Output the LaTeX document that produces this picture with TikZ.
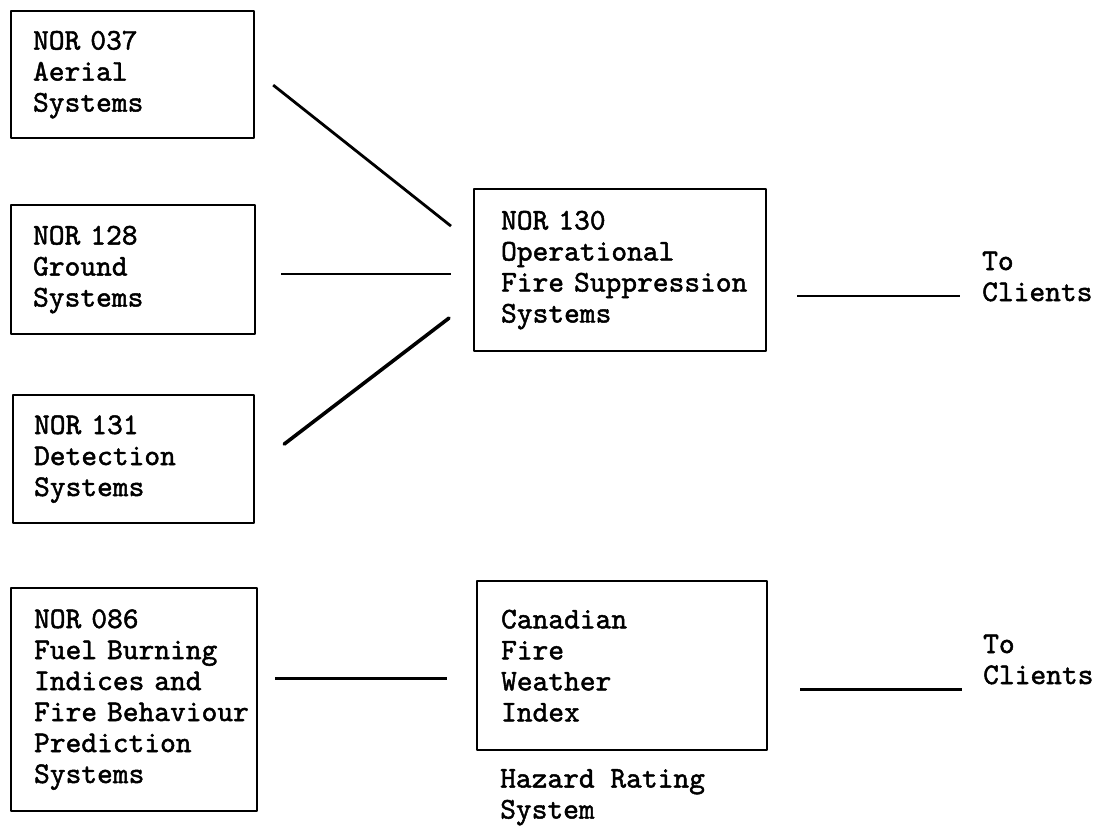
\documentclass[tikz,border=0pt]{standalone}
\usepackage{fontspec}
\newfontfamily\typewr[FakeBold=1.6,HyphenChar=None]{lmmono10-regular.otf}
\newcommand\twfont{\typewr\fontsize{30}{31}\selectfont\spaceskip=15.75pt\relax}
\usetikzlibrary{positioning}
\hfuzz=40pt

\begin{document}
\begin{tikzpicture}[x=1pt,y=-1pt,line join=bevel,
  unit/.style={draw,line width=2.2pt,anchor=north west,align=left,
    inner xsep=22pt,inner ysep=0pt,font=\twfont},
  label/.style={anchor=north west,align=left,inner sep=0pt,font=\twfont},
  link/.style={line width=2.8pt}]
\useasboundingbox (0,0) rectangle (1101,829);
%%
  % Node: aer
  \node[unit,text width=199pt,minimum height=127pt] (aer) at (10,10)
    {NOR~037\\Aerial\\Systems};
  % Node: gnd
  \node[unit,text width=200pt,minimum height=129pt] (gnd) at (10,204)
    {NOR~128\\Ground\\Systems};
  % Node: det
  \node[unit,inner xsep=21pt,text width=199pt,minimum height=128pt] (det) at (12,394)
    {NOR~131\\Detection\\Systems};
  % Node: fue
  \node[unit,inner xsep=23pt,text width=200pt,minimum height=223pt] (fue) at (10,587)
    {NOR~086\\Fuel~Burning\\Indices~and\\Fire~Behaviour\\Prediction\\Systems};
  % Node: ops
  \node[unit,inner xsep=27pt,text width=238pt,minimum height=162pt] (ops) at (473,188)
    {NOR~130\\Operational\\Fire~Suppression\\Systems};
  % Node: cfwi
  \node[unit,inner xsep=24pt,text width=242pt,minimum height=169pt] (cfwi) at (476,580)
    {Canadian\\Fire\\Weather\\Index};
  % Node: haz
  \node[label] (haz) at (500,769) {Hazard~Rating\\System};
  % Node: out1
  \node[label] (out1) at (982,251.5) {To\\Clients};
  % Node: out2
  \node[label] (out2) at (983,634.5) {To\\Clients};
%
  % Edge: aer -> ops
  \draw[link] ([shift={(18,10.5)}]aer.east) -- ([shift={(-22,-44)}]ops.west);
  % Edge: gnd -> ops
  \draw[link] ([shift={(25,4.5)}]gnd.east) -- ([shift={(-22,4)}]ops.west);
  % Edge: det -> ops
  \draw[line width=3.6pt,line cap=round] ([shift={(29,-15)}]det.east) -- ([shift={(-24,48)}]ops.west);
  % Edge: ops -> out1
  \draw[link,shorten >=22pt] ([shift={(30,26)}]ops.east) coordinate (s1) -- (s1 -| out1.west);
  % Edge: fue -> cfwi
  \draw[link] ([shift={(17,-21.5)}]fue.east) -- ([shift={(-29,12.5)}]cfwi.west);
  % Edge: cfwi -> out2
  \draw[link,shorten >=21pt] ([shift={(32,23.5)}]cfwi.east) coordinate (s2) -- (s2 -| out2.west);
%
\end{tikzpicture}
\end{document}
